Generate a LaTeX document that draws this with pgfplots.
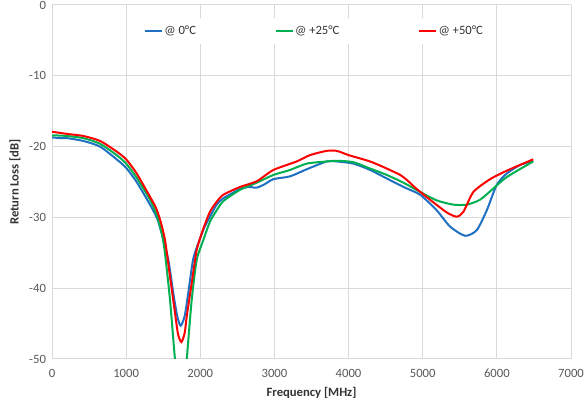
\documentclass[border=0pt]{standalone}
\usepackage{fontspec}
\setmainfont{Carlito}
\usepackage{pgfplots}
\pgfplotsset{compat=1.18}
\definecolor{cblue}{RGB}{31,112,193}
\definecolor{cgreen}{RGB}{0,176,80}
\definecolor{cred}{RGB}{255,0,0}
\definecolor{gridc}{RGB}{217,217,217}
\definecolor{tickc}{RGB}{89,89,89}
\begin{document}
\begin{tikzpicture}
\begin{axis}[
  scale only axis,
  width=389.25pt, height=265.5pt,
  xmin=0, xmax=7000, ymin=-50, ymax=0,
  xtick={0,1000,...,7000}, ytick={-50,-40,...,0},
  grid=major,
  major grid style={gridc, line width=0.75pt},
  axis line style={draw=none},
  major tick length=0pt,
  /pgf/number format/assume math mode=true,
  /pgf/number format/set thousands separator={},
  tick label style={font=\fontsize{9.5}{11}\selectfont, text=tickc},
  xticklabel style={yshift=-4pt},
  yticklabel style={xshift=-1pt},
  xlabel={\textbf{Frequency [MHz]}},
  ylabel={\textbf{Return Loss [dB]}},
  every axis x label/.style={at={(axis description cs:0.5,-0.096)}, anchor=center, font=\fontsize{9.5}{11}\selectfont, text=black!80},
  every axis y label/.style={at={(axis description cs:-0.0713,0.5)}, rotate=90, anchor=center, font=\fontsize{9.5}{11}\selectfont, text=black!80},
  legend columns=3,
  legend style={at={(axis description cs:0.505,0.9266)}, anchor=center, draw=none, fill=white,
    font=\fontsize{9.5}{11}\selectfont, text=black!80,
    inner xsep=4pt, inner ysep=4pt,
    /tikz/every even column/.append style={column sep=58pt},
    nodes={inner xsep=1pt}},
  legend image code/.code={\draw[#1] (0cm,0cm) -- (0.45cm,0cm);},
  every axis plot/.append style={line width=1.5pt, smooth, tension=0.4},
]
\addplot[cblue] coordinates {
(0,-18.7) (108,-18.8) (200,-18.8) (422,-19.2) (648,-20.0) (872,-21.8) (1000,-23.0)
(1142,-25.0) (1322,-28.2) (1420,-30.2) (1480,-32.3) (1569,-36.0) (1636,-40.7) (1690,-44.0)
(1736,-45.3) (1790,-43.9) (1839,-40.6) (1906,-35.8) (2000,-32.9) (2060,-31.3) (2131,-29.9)
(2221,-28.2) (2311,-27.3) (2536,-26.0) (2650,-25.7) (2761,-25.8) (2870,-25.3)
(2986,-24.6) (3211,-24.2) (3436,-23.2) (3705,-22.1) (3840,-22.1) (4065,-22.4)
(4290,-23.3) (4515,-24.5) (4740,-25.7) (4965,-26.8) (5189,-29.0) (5369,-31.3)
(5572,-32.6) (5729,-31.8) (5864,-29.0) (5999,-25.4) (6134,-23.8) (6313,-22.6) (6490,-22.0)
};
\addlegendentry{@ 0°C}
\addplot[cgreen] coordinates {
(0,-18.4) (200,-18.5) (422,-18.8) (648,-19.6) (872,-21.2) (1000,-22.4) (1142,-24.4)
(1322,-27.5) (1410,-29.6) (1480,-32.2) (1524,-35.1) (1592,-41.7) (1659,-50.1) (1700,-54) (1742,-56)
(1785,-54) (1817,-50.1) (1884,-41.7) (1952,-36.0) (2041,-33.2) (2131,-30.6) (2221,-29.0)
(2311,-27.7) (2536,-26.1) (2761,-25.1) (2986,-24.0) (3211,-23.3) (3436,-22.4) (3705,-22.1)
(3840,-22.0) (4065,-22.2) (4290,-23.1) (4515,-24.0) (4740,-25.1) (4965,-26.4) (5189,-27.6)
(5414,-28.2) (5594,-28.2) (5774,-27.5) (5954,-25.9) (6134,-24.3) (6490,-22.1)
};
\addlegendentry{@ +25°C}
\addplot[cred] coordinates {
(0,-17.9) (198,-18.2) (422,-18.5) (648,-19.2) (872,-20.7) (1000,-21.8) (1142,-23.8)
(1322,-27.1) (1400,-28.6) (1460,-30.4) (1524,-33.2) (1592,-38.4) (1659,-43.5) (1700,-46.5) (1745,-47.6)
(1790,-46.3) (1817,-44.0) (1884,-39.3) (1952,-34.6) (2041,-31.6) (2131,-29.2) (2221,-27.8)
(2311,-26.8) (2536,-25.7) (2761,-24.9) (2986,-23.3) (3300,-22.1) (3480,-21.2) (3705,-20.6)
(3840,-20.6) (4000,-21.2) (4290,-22.1) (4515,-23.1) (4695,-24.0) (4785,-24.7) (4920,-26.0)
(5099,-27.5) (5324,-29.3) (5459,-29.9) (5549,-29.2) (5684,-26.4) (5909,-24.6) (6134,-23.4) (6490,-21.8)
};
\addlegendentry{@ +50°C}
\end{axis}
\pgfresetboundingbox
\path ([shift={(-39pt,-35.25pt)}]current axis.south west) rectangle ([shift={(9.75pt,3.75pt)}]current axis.north east);
\end{tikzpicture}
\end{document}
